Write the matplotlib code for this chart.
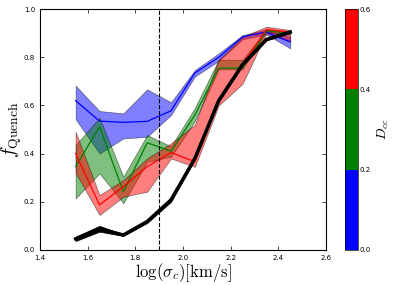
import numpy as np
import matplotlib
matplotlib.use('Agg')
import matplotlib.pyplot as plt
from matplotlib.colors import ListedColormap, BoundaryNorm
from matplotlib.cm import ScalarMappable

plt.rcParams['mathtext.fontset'] = 'cm'

# bin centres in log(sigma_c)
logsig = [1.55, 1.65, 1.75, 1.85, 1.95, 2.05, 2.15, 2.25, 2.35, 2.45]

# all galaxies (black)
black_mid = [0.046, 0.088, 0.062, 0.118, 0.208, 0.38, 0.62, 0.77, 0.874, 0.905]
black_lo = [0.037, 0.076, 0.058, 0.112, 0.200, 0.375, 0.615, 0.765, 0.870, 0.900]
black_hi = [0.055, 0.100, 0.065, 0.124, 0.216, 0.385, 0.625, 0.775, 0.878, 0.910]

# D_cc bins: 0.0-0.2 (blue), 0.2-0.4 (green), 0.4-0.6 (red)
blue_mid = [0.62, 0.535, 0.53, 0.534, 0.578, 0.735, 0.80, 0.885, 0.905, 0.864]
blue_lo = [0.543, 0.40, 0.463, 0.47, 0.56, 0.72, 0.785, 0.875, 0.895, 0.837]
blue_hi = [0.682, 0.577, 0.567, 0.667, 0.613, 0.747, 0.816, 0.892, 0.915, 0.885]

green_mid = [0.346, 0.512, 0.242, 0.445, 0.41, 0.56, 0.755, 0.755, 0.91, 0.90]
green_lo = [0.214, 0.318, 0.194, 0.366, 0.387, 0.535, 0.75, 0.75, 0.905, 0.895]
green_hi = [0.436, 0.549, 0.304, 0.477, 0.43, 0.59, 0.79, 0.79, 0.915, 0.905]

red_mid = [0.40, 0.187, 0.263, 0.346, 0.405, 0.366, 0.61, 0.77, 0.915, 0.905]
red_lo = [0.32, 0.145, 0.221, 0.242, 0.38, 0.345, 0.60, 0.69, 0.90, 0.865]
red_hi = [0.49, 0.228, 0.29, 0.38, 0.443, 0.52, 0.79, 0.885, 0.927, 0.913]

dcc_bounds = [0.0, 0.2, 0.4, 0.6]
dcc_colors = ['blue', 'green', 'red']

fig = plt.figure(figsize=(4.07, 2.85), dpi=100)
ax = fig.add_axes([0.098, 0.123, 0.703, 0.845])
cax = fig.add_axes([0.848, 0.123, 0.031, 0.845])

bands = [(blue_lo, blue_mid, blue_hi, 'blue'),
         (green_lo, green_mid, green_hi, 'green'),
         (red_lo, red_mid, red_hi, 'red')]
for lo, mid, hi, c in bands:
    ax.fill_between(logsig, lo, hi, facecolor=c, alpha=0.5,
                    edgecolor='k', linewidth=0.5)
    ax.plot(logsig, mid, color=c, lw=0.9)

ax.fill_between(logsig, black_lo, black_hi, facecolor='k', edgecolor='k', lw=0.5)
ax.plot(logsig, black_mid, color='k', lw=2.5)

ax.axvline(1.9, color='k', ls='--', lw=0.8)

ax.set_xlim(1.4, 2.6)
ax.set_ylim(0.0, 1.0)
ax.set_xticks(np.arange(1.4, 2.61, 0.2))
ax.set_yticks(np.arange(0.0, 1.01, 0.2))
ax.tick_params(direction='in', top=True, right=True, labelsize=5, length=3, width=0.5)
for s in ax.spines.values():
    s.set_linewidth(0.8)
ax.set_xlabel(r'$\log(\sigma_c)[\rm km/s]$', fontsize=12, labelpad=0)
ax.set_ylabel(r'$f_{\rm Quench}$', fontsize=14, labelpad=0)

cmap = ListedColormap(dcc_colors)
norm = BoundaryNorm(dcc_bounds, cmap.N)
cb = fig.colorbar(ScalarMappable(norm=norm, cmap=cmap), cax=cax,
                  ticks=dcc_bounds)
cb.ax.tick_params(labelsize=5, length=0, pad=1)
cb.ax.set_yticklabels(['0.0', '0.2', '0.4', '0.6'])
cb.outline.set_linewidth(0.5)
cb.set_label(r'$D_{cc}$', fontsize=10)

fig.savefig('out.png', dpi=100)
